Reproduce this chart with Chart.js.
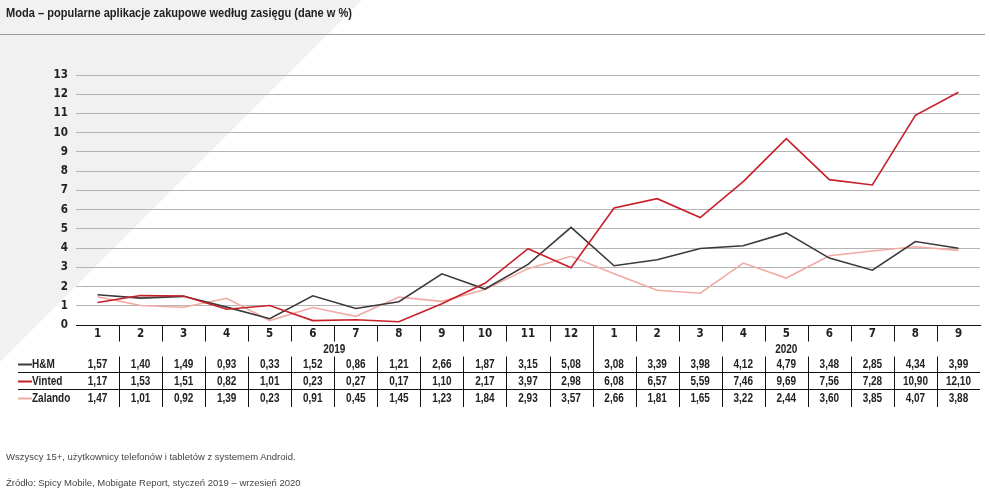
<!DOCTYPE html>
<html>
<head>
<meta charset="utf-8">
<script src="https://cdn.jsdelivr.net/npm/chart.js@4.4.1/dist/chart.umd.min.js"></script>
<style>
  html, body { margin:0; padding:0; background:#fff; }
  body { width:991px; height:494px; position:relative; overflow:hidden; }
  #wrap { position:absolute; left:0; top:0; width:991px; height:494px; }
  #title { position:absolute; left:6px; top:5px; font-family:"Liberation Sans",Arial,sans-serif; font-weight:bold; font-size:13.5px; color:#222; white-space:nowrap; transform-origin:0 0; transform:scaleX(0.82); }
  #rule { position:absolute; left:0; top:34px; width:985px; height:0; border-top:1px solid #9a9a9a; }
  .note { position:absolute; left:6px; font-family:"Liberation Sans",Arial,sans-serif; font-size:9.5px; color:#444; white-space:nowrap; }
</style>
</head>
<body>
<div id="wrap"><canvas id="c" width="991" height="494"></canvas></div>
<div id="title">Moda – popularne aplikacje zakupowe według zasięgu (dane w %)</div>
<div id="rule"></div>
<div class="note" style="top:451px">Wszyscy 15+, użytkownicy telefonów i tabletów z systemem Android.</div>
<div class="note" style="top:477px">Źródło: Spicy Mobile, Mobigate Report, styczeń 2019 – wrzesień 2020</div>
<script>
const months = ['1','2','3','4','5','6','7','8','9','10','11','12','1','2','3','4','5','6','7','8','9'];
const years = ['2019','2020'];
const yearSpans = [12, 9];
const seriesNames = ['H&M','Vinted','Zalando'];
const hm = [1.57,1.40,1.49,0.93,0.33,1.52,0.86,1.21,2.66,1.87,3.15,5.08,3.08,3.39,3.98,4.12,4.79,3.48,2.85,4.34,3.99];
const vinted = [1.17,1.53,1.51,0.82,1.01,0.23,0.27,0.17,1.10,2.17,3.97,2.98,6.08,6.57,5.59,7.46,9.69,7.56,7.28,10.90,12.10];
const zalando = [1.47,1.01,0.92,1.39,0.23,0.91,0.45,1.45,1.23,1.84,2.93,3.57,2.66,1.81,1.65,3.22,2.44,3.60,3.85,4.07,3.88];
const colors = ['#3a3a3a','#c8202b','#f2aaa5'];
const seriesData = [hm, vinted, zalando];

const TICKFONT = '"DejaVu Sans Condensed","Liberation Sans",Arial,sans-serif';
const TFONT = 'bold 12.5px "Liberation Sans",Arial,sans-serif';
const SX = 0.8;

(function(){
  const t = document.getElementById('title');
  const w = t.getBoundingClientRect().width;
  if (w > 0) { const s = 0.82 * 346 / w; t.style.transform = 'scaleX(' + s + ')'; }
})();

function narrowText(ctx, txt, x, y, align){
  ctx.save();
  ctx.translate(x, y);
  ctx.scale(SX, 1);
  ctx.textAlign = align;
  ctx.fillText(txt, 0, 0);
  ctx.restore();
}

const bgPlugin = {
  id:'bg',
  beforeDraw(chart){
    const ctx = chart.ctx;
    ctx.save();
    ctx.fillStyle = '#f1f1f1';
    ctx.beginPath();
    ctx.moveTo(0,0); ctx.lineTo(362,0); ctx.lineTo(0,362); ctx.closePath();
    ctx.fill();
    ctx.restore();
  }
};

const tablePlugin = {
  id:'table',
  afterDraw(chart){
    const ctx = chart.ctx;
    const x = chart.scales.x;
    const n = months.length;
    const half = (x.getPixelForValue(1) - x.getPixelForValue(0))/2;
    const right = x.getPixelForValue(n-1) + half;
    const axisY = chart.chartArea.bottom;
    ctx.save();
    ctx.strokeStyle = '#111';
    ctx.lineWidth = 1;
    for (let i=1;i<n;i++){
      const bx = Math.round(x.getPixelForValue(i) - half) + 0.5;
      ctx.beginPath();
      if (i === yearSpans[0]) {
        ctx.moveTo(bx, axisY); ctx.lineTo(bx, 407);
      } else {
        ctx.moveTo(bx, axisY); ctx.lineTo(bx, 341.5);
        ctx.moveTo(bx, 356.5); ctx.lineTo(bx, 407);
      }
      ctx.stroke();
    }
    [372.5, 389.5].forEach(yy=>{
      ctx.beginPath(); ctx.moveTo(18, yy); ctx.lineTo(right, yy); ctx.stroke();
    });
    ctx.fillStyle = '#222';
    ctx.font = TFONT;
    ctx.textBaseline = 'middle';
    let start = 0;
    yearSpans.forEach((span, k)=>{
      const a = x.getPixelForValue(start) - half;
      const b = x.getPixelForValue(start+span-1) + half;
      narrowText(ctx, years[k], (a+b)/2, 349.5, 'center');
      start += span;
    });
    const rowY = [365, 382, 399];
    seriesData.forEach((arr, r)=>{
      const yy = rowY[r];
      ctx.strokeStyle = colors[r]; ctx.lineWidth = 2;
      ctx.beginPath(); ctx.moveTo(18, yy-0.5); ctx.lineTo(32, yy-0.5); ctx.stroke();
      ctx.fillStyle = '#222';
      narrowText(ctx, seriesNames[r], 32, yy, 'left');
      arr.forEach((v,i)=>{
        narrowText(ctx, v.toFixed(2).replace('.', ','), x.getPixelForValue(i), yy, 'center');
      });
    });
    ctx.restore();
  }
};

new Chart(document.getElementById('c'), {
  type:'line',
  data:{
    labels: months,
    datasets: seriesNames.map((name,i)=>({
      label:name,
      data:seriesData[i],
      borderColor:colors[i],
      backgroundColor:colors[i],
      borderWidth:1.6,
      pointRadius:0,
      tension:0,
      order: i===1 ? 0 : (i===0 ? 1 : 2)
    }))
  },
  options:{
    responsive:false,
    animation:false,
    devicePixelRatio:1,
    layout:{ padding:{ left:0, right:11, top:75, bottom:149 } },
    plugins:{ legend:{display:false}, tooltip:{enabled:false}, title:{display:false} },
    scales:{
      x:{
        offset:true,
        grid:{ display:false, drawTicks:false },
        border:{ display:true, color:'#111', width:1 },
        ticks:{ color:'#222', font:{ family:TICKFONT, weight:'bold', size:11.5 }, padding:2, maxRotation:0, autoSkip:false },
        afterFit(s){ s.height = 20; }
      },
      y:{
        min:0, max:13,
        ticks:{ stepSize:1, color:'#222', font:{ family:TICKFONT, weight:'bold', size:11.5 }, padding:8 },
        grid:{ color:'#b4b4b4', lineWidth:1, drawTicks:false },
        border:{ display:false },
        afterFit(s){ s.width = 76; }
      }
    }
  },
  plugins:[bgPlugin, tablePlugin]
});
</script>
</body>
</html>
